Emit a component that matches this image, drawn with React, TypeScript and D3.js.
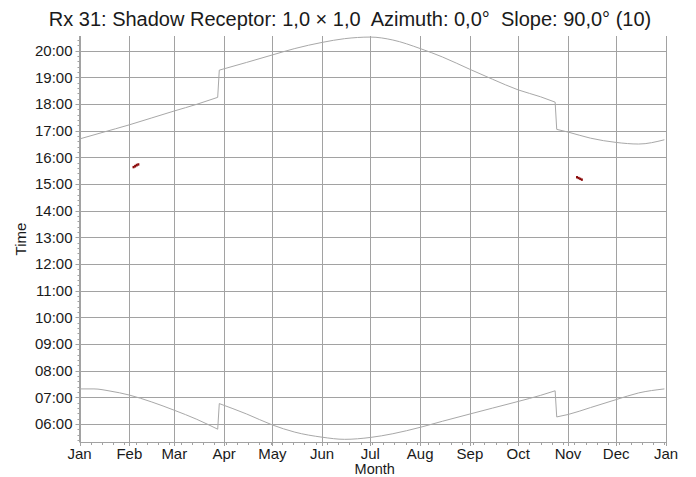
import React from 'react';
import * as d3 from 'd3';

// ---- data ----
const titleText = 'Rx 31: Shadow Receptor: 1,0 × 1,0  Azimuth: 0,0°  Slope: 90,0° (10)';
const xAxisLabel = 'Month';
const yAxisLabel = 'Time';
const hourTicks = [6, 7, 8, 9, 10, 11, 12, 13, 14, 15, 16, 17, 18, 19, 20];

// Sunset curve (upper), decimal hours
const sunsetDates = ['01-01', '01-15', '02-01', '02-15', '03-01', '03-15', '03-28', '03-29', '04-15', '05-01', '05-15', '06-01', '06-15', '07-01', '07-15', '08-01', '08-15', '09-01', '09-15', '10-01', '10-15', '10-24', '10-25', '11-01', '11-15', '12-01', '12-15', '12-31'];
const sunsetTimes = [16.69, 16.93, 17.22, 17.48, 17.74, 17.99, 18.25, 19.27, 19.56, 19.84, 20.08, 20.31, 20.45, 20.51, 20.40, 20.08, 19.76, 19.30, 18.93, 18.53, 18.27, 18.07, 17.05, 16.95, 16.72, 16.56, 16.50, 16.66];

// Sunrise curve (lower), decimal hours
const sunriseDates = ['01-01', '01-10', '01-20', '02-01', '02-15', '03-01', '03-15', '03-28', '03-29', '04-15', '05-01', '05-15', '06-01', '06-15', '07-01', '07-15', '08-01', '08-15', '09-01', '09-15', '10-01', '10-15', '10-24', '10-25', '11-01', '11-15', '12-01', '12-15', '12-31'];
const sunriseTimes = [7.32, 7.32, 7.24, 7.09, 6.83, 6.52, 6.18, 5.81, 6.77, 6.38, 5.97, 5.70, 5.51, 5.43, 5.50, 5.64, 5.88, 6.11, 6.38, 6.60, 6.85, 7.08, 7.25, 6.27, 6.36, 6.62, 6.92, 7.17, 7.32];

// Shadow flicker periods (dark red)
const flickerDates = ['02-03', '02-04', '02-05', '02-06', '11-06', '11-07', '11-08', '11-09'];
const flickerStart = [15.59, 15.62, 15.66, 15.69, 15.21, 15.18, 15.15, 15.12];
const flickerEnd = [15.68, 15.72, 15.76, 15.78, 15.30, 15.27, 15.24, 15.21];

const YEAR = 2010;
const parseDay = d3.timeParse('%Y-%m-%d');
const toDate = (s: string) => parseDay(`${YEAR}-${s}`) as Date;

const W = 696;
const H = 477;
const FONT = '"Liberation Sans", Arial, sans-serif';

export default function App() {
  const x0 = 79.5;
  const x1 = 666;
  const yTop = 36;
  const yBot = 442;

  const xScale = d3.scaleTime().domain([new Date(YEAR, 0, 1), new Date(YEAR + 1, 0, 1)]).range([x0, x1]);
  const yScale = d3.scaleLinear().domain([5.33, 20.55]).range([yBot, yTop]);

  const monthTicks = d3.timeMonth.range(new Date(YEAR, 0, 1), new Date(YEAR + 1, 0, 2));
  const weekTicks = d3.timeDay.range(new Date(YEAR, 0, 1), new Date(YEAR + 1, 0, 1), 7).slice(1);
  const minorHourTicks = d3.range(Math.ceil(5.33 * 5), Math.floor(20.55 * 5) + 1).map((v) => v / 5).filter((v) => Math.abs(v - Math.round(v)) > 1e-6);

  const makeSegments = (dates: string[], times: number[]) => {
    const pts = dates.map((d, i) => ({ date: toDate(d), t: times[i] }));
    const segs: { date: Date; t: number }[][] = [];
    const jumps: [{ date: Date; t: number }, { date: Date; t: number }][] = [];
    let cur: { date: Date; t: number }[] = [pts[0]];
    for (let i = 1; i < pts.length; i++) {
      const gap = d3.timeDay.count(pts[i - 1].date, pts[i].date);
      if (gap === 1) {
        segs.push(cur);
        jumps.push([pts[i - 1], pts[i]]);
        cur = [pts[i]];
      } else {
        cur.push(pts[i]);
      }
    }
    segs.push(cur);
    return { segs, jumps };
  };

  const curveLine = d3.line<{ date: Date; t: number }>().x((d) => xScale(d.date)).y((d) => yScale(d.t)).curve(d3.curveMonotoneX);
  const straight = d3.line<{ date: Date; t: number }>().x((d) => xScale(d.date)).y((d) => yScale(d.t));

  const sunset = makeSegments(sunsetDates, sunsetTimes);
  const sunrise = makeSegments(sunriseDates, sunriseTimes);

  const gridColor = '#a2a2a2';
  const curveColor = '#a8a8a8';
  const textColor = '#1a1a1a';

  const fmtHour = (h: number) => `${String(h).padStart(2, '0')}:00`;
  const fmtMonth = d3.timeFormat('%b');

  return (
    <svg width={W} height={H} style={{ position: 'absolute', left: 0, top: 0, background: '#fff' }} fontFamily={FONT}>
      <rect x={0} y={0} width={W} height={H} fill="#fff" />
      {/* title */}
      <text x={W / 2 + 2} y={26} textAnchor="middle" fontSize={20} fill={textColor} style={{ whiteSpace: 'pre' }}>
        {titleText}
      </text>

      {/* horizontal grid */}
      {hourTicks.map((h) => (
        <line key={`hg${h}`} x1={x0} x2={x1} y1={Math.round(yScale(h)) + 0.5} y2={Math.round(yScale(h)) + 0.5} stroke={gridColor} strokeWidth={1} />
      ))}
      {/* vertical grid */}
      {monthTicks.map((m, i) => (
        <line key={`vg${i}`} x1={Math.round(xScale(m)) + 0.5} x2={Math.round(xScale(m)) + 0.5} y1={yTop} y2={yBot} stroke={gridColor} strokeWidth={1} />
      ))}

      {/* y axis */}
      <line x1={x0} x2={x0} y1={yTop} y2={yBot} stroke={gridColor} strokeWidth={1} />
      {minorHourTicks.map((v, i) => (
        <line key={`ym${i}`} x1={x0 - 2} x2={x0} y1={Math.round(yScale(v)) + 0.5} y2={Math.round(yScale(v)) + 0.5} stroke={gridColor} strokeWidth={1} />
      ))}
      {hourTicks.map((h) => (
        <g key={`yt${h}`}>
          <line x1={x0 - 4} x2={x0} y1={Math.round(yScale(h)) + 0.5} y2={Math.round(yScale(h)) + 0.5} stroke={gridColor} strokeWidth={1} />
          <text x={x0 - 7} y={yScale(h) + 5.3} textAnchor="end" fontSize={15} fill={textColor}>
            {fmtHour(h)}
          </text>
        </g>
      ))}

      {/* x axis */}
      <line x1={x0} x2={x1} y1={yBot + 0.5} y2={yBot + 0.5} stroke={gridColor} strokeWidth={1} />
      {weekTicks.map((d, i) => (
        <line key={`xm${i}`} x1={Math.round(xScale(d)) + 0.5} x2={Math.round(xScale(d)) + 0.5} y1={yBot} y2={yBot + 3} stroke={gridColor} strokeWidth={1} />
      ))}
      {monthTicks.map((m, i) => (
        <g key={`xt${i}`}>
          <line x1={Math.round(xScale(m)) + 0.5} x2={Math.round(xScale(m)) + 0.5} y1={yBot} y2={yBot + 4} stroke={gridColor} strokeWidth={1} />
          <text x={xScale(m)} y={yBot + 16.5} textAnchor="middle" fontSize={15} fill={textColor}>
            {fmtMonth(m)}
          </text>
        </g>
      ))}

      {/* axis titles */}
      <text x={(x0 + x1) / 2 + 2} y={473.5} textAnchor="middle" fontSize={14.5} fill={textColor}>
        {xAxisLabel}
      </text>
      <text transform={`translate(26, ${(yTop + yBot) / 2}) rotate(-90)`} textAnchor="middle" fontSize={15} fill={textColor}>
        {yAxisLabel}
      </text>

      {/* sun curves */}
      {[sunset, sunrise].map((c, ci) => (
        <g key={`c${ci}`} fill="none" stroke={curveColor} strokeWidth={1}>
          {c.segs.map((s, si) => (
            <path key={`s${si}`} d={curveLine(s) || ''} />
          ))}
          {c.jumps.map((j, ji) => (
            <path key={`j${ji}`} d={straight(j) || ''} />
          ))}
        </g>
      ))}

      {/* shadow flicker */}
      {flickerDates.map((s, i) => {
        const d = toDate(s);
        const xa = xScale(d);
        const xb = xScale(d3.timeDay.offset(d, 1));
        return (
          <rect key={`f${i}`} x={xa} y={yScale(flickerEnd[i])} width={xb - xa + 0.4} height={yScale(flickerStart[i]) - yScale(flickerEnd[i])} fill="#8b0a0a" />
        );
      })}
    </svg>
  );
}
